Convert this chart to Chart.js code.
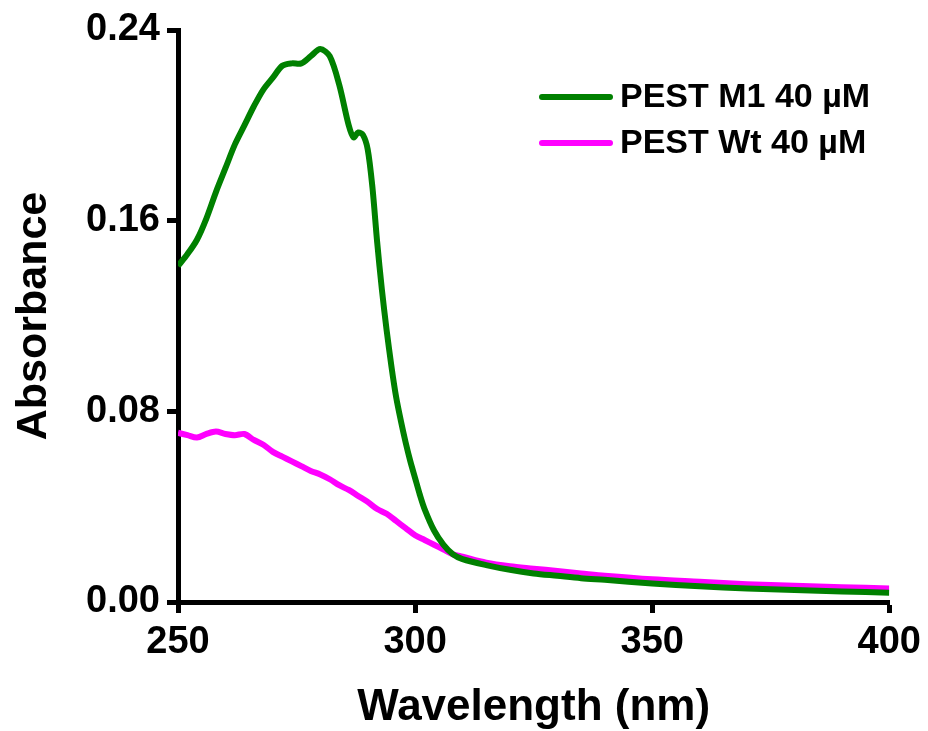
<!DOCTYPE html>
<html>
<head>
<meta charset="utf-8">
<script src="https://cdn.jsdelivr.net/npm/chart.js@4/dist/chart.umd.min.js"></script>
<style>
  html, body { margin: 0; padding: 0; background: #fff; }
  #wrap { width: 928px; height: 731px; }
</style>
</head>
<body>
<div id="wrap"><canvas id="spec" width="928" height="731"></canvas></div>
<script>
// wavelength (nm) / absorbance
const wlM1 = [250,252,254,256,258,260,262,264,266,268,270,272,274,276,278,280,282,284,286,287,288,289,290,291,292,293,294,295,296,297,298,299,300,301,302,304,306,308,310,315,320,325,330,335,340,350,360,370,380,390,400];
const absM1 = [0.141,0.146,0.152,0.161,0.172,0.182,0.192,0.200,0.208,0.215,0.220,0.225,0.226,0.226,0.229,0.232,0.229,0.217,0.200,0.195,0.197,0.196,0.190,0.174,0.151,0.131,0.114,0.099,0.086,0.076,0.067,0.059,0.052,0.045,0.039,0.030,0.024,0.020,0.018,0.0155,0.0135,0.012,0.011,0.010,0.0093,0.0078,0.0066,0.0057,0.0050,0.0044,0.0039];

const wlWt = [250,252,254,256,258,260,262,264,266,268,270,272,274,276,278,280,282,284,286,288,290,292,294,296,298,300,302,304,306,308,310,315,320,325,330,335,340,350,360,370,380,390,400];
const absWt = [0.071,0.070,0.069,0.0705,0.0715,0.0705,0.070,0.0705,0.068,0.066,0.063,0.061,0.059,0.057,0.055,0.0535,0.0515,0.049,0.047,0.0445,0.042,0.039,0.037,0.034,0.031,0.028,0.026,0.024,0.022,0.020,0.019,0.0165,0.015,0.014,0.013,0.012,0.011,0.0095,0.0085,0.0075,0.0068,0.0062,0.0057];

const seriesNames = ['PEST M1 40 \u00b5M', 'PEST Wt 40 \u00b5M'];
const seriesColors = ['#008000', '#ff00ff'];
const xTicks = [250, 300, 350, 400];
const yTicks = [0, 0.08, 0.16, 0.24];

const FONT = '"Liberation Sans", Arial, sans-serif';

const toPts = (xs, ys) => xs.map((x, i) => ({ x: x, y: ys[i] }));

// legend drawn inside the plot, top right
const legendInside = {
  id: 'legendInside',
  afterDraw(chart) {
    const ctx = chart.ctx;
    ctx.save();
    ctx.font = 'bold 34px ' + FONT;
    ctx.textBaseline = 'middle';
    ctx.textAlign = 'left';
    chart.data.datasets.forEach((ds, i) => {
      const y = 97 + i * 46;
      ctx.strokeStyle = ds.borderColor;
      ctx.lineWidth = 6;
      ctx.lineCap = 'round';
      ctx.beginPath();
      ctx.moveTo(542, y);
      ctx.lineTo(610, y);
      ctx.stroke();
      ctx.fillStyle = '#000';
      ctx.fillText(ds.label, 620, y + 1);
    });
    ctx.restore();
  }
};

new Chart(document.getElementById('spec'), {
  type: 'line',
  data: {
    datasets: [
      { label: seriesNames[0], data: toPts(wlM1, absM1), borderColor: seriesColors[0], borderWidth: 6, pointRadius: 0, tension: 0.3, fill: false },
      { label: seriesNames[1], data: toPts(wlWt, absWt), borderColor: seriesColors[1], borderWidth: 6, pointRadius: 0, tension: 0.3, fill: false }
    ]
  },
  options: {
    responsive: false,
    animation: false,
    layout: { padding: { left: 0, top: 30, right: 38, bottom: 0 } },
    plugins: { legend: { display: false }, tooltip: { enabled: false } },
    scales: {
      x: {
        type: 'linear',
        min: 250, max: 400,
        afterBuildTicks: s => { s.ticks = xTicks.map(v => ({ value: v })); },
        afterFit: s => { s.height = 129; },
        border: { display: true, color: '#000', width: 5 },
        grid: { drawOnChartArea: false, drawTicks: true, tickLength: 11, tickWidth: 5, tickColor: '#000' },
        ticks: { color: '#000', padding: 7, maxRotation: 0, font: { family: FONT, size: 38, weight: 'bold' } },
        title: { display: true, text: 'Wavelength (nm)', color: '#000', padding: { top: 0, bottom: 1 }, font: { family: FONT, size: 44, weight: 'bold', lineHeight: 1 } }
      },
      y: {
        min: 0, max: 0.24,
        afterBuildTicks: s => { s.ticks = yTicks.map(v => ({ value: v })); },
        afterFit: s => { s.width = 178; },
        border: { display: true, color: '#000', width: 5 },
        grid: { drawOnChartArea: false, drawTicks: true, tickLength: 11, tickWidth: 5, tickColor: '#000' },
        ticks: { color: '#000', padding: 7, callback: v => v.toFixed(2), font: { family: FONT, size: 38, weight: 'bold' } },
        title: { display: true, text: 'Absorbance', color: '#000', padding: { top: 8, bottom: 0 }, font: { family: FONT, size: 43, weight: 'bold' } }
      }
    }
  },
  plugins: [legendInside]
});
</script>
</body>
</html>
